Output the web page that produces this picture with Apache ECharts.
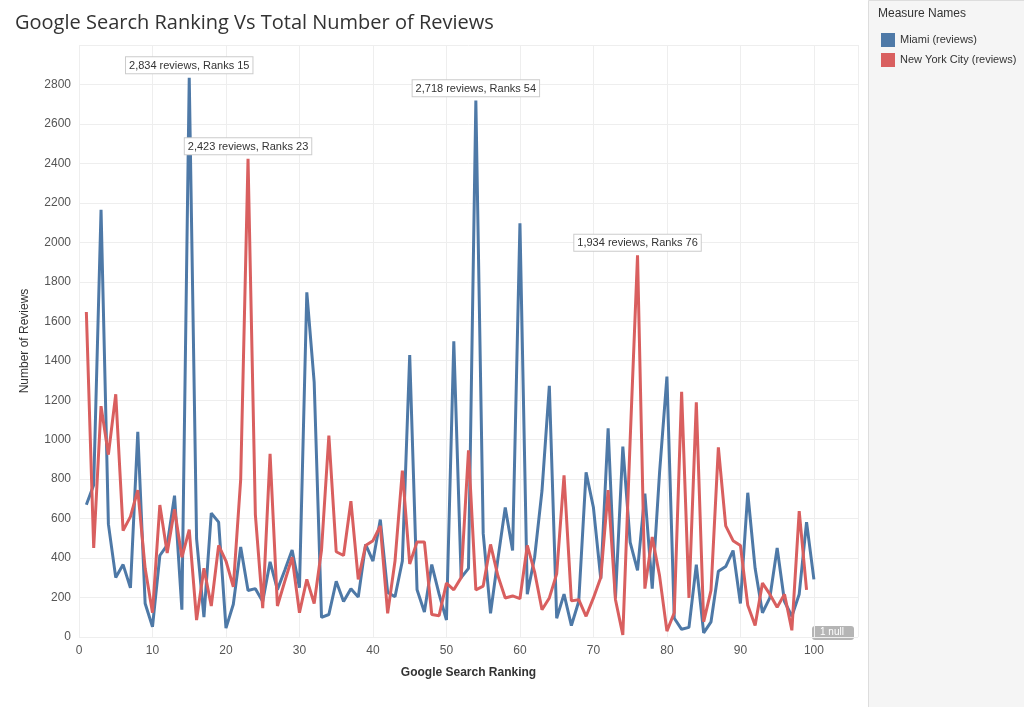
<!DOCTYPE html>
<html>
<head>
<meta charset="utf-8">
<script src="https://cdn.jsdelivr.net/npm/echarts@6/dist/echarts.min.js"></script>
<style>html,body{margin:0;padding:0;background:#fff}#main{width:1024px;height:707px}</style>
</head>
<body>
<div id="main"></div>
<script>
// ranks 1..100
var miami = [670,770,2165,572,301,367,249,1040,170,52,413,466,716,138,2834,497,101,628,582,45,
  166,456,236,245,180,381,240,338,441,250,1747,1292,99,114,282,180,245,202,469,385,
  595,226,204,385,1429,239,127,367,217,86,1498,301,348,2718,525,120,395,656,438,2096,
  217,404,741,1273,95,217,58,180,834,656,295,1058,198,965,479,338,726,245,834,1320,
  95,39,49,367,21,77,333,357,438,170,731,348,123,198,451,180,105,217,582,292];
var nyc = [1647,451,1170,924,1230,539,610,744,348,123,669,426,647,404,544,86,348,157,464,385,
  254,797,2423,619,146,928,157,282,404,123,292,170,441,1021,432,413,688,292,464,488,
  563,120,385,843,370,482,482,114,108,273,239,301,946,239,258,469,310,198,208,194,
  464,329,138,198,320,819,183,189,105,198,301,744,189,11,1000,1934,245,507,310,30,
  123,1242,198,1189,77,236,961,563,488,464,161,58,273,217,151,217,34,638,239,null];
var annotations = {miami: [15, 54], nyc: [23, 76]};
var seriesNames = ['Miami (reviews)', 'New York City (reviews)'];
var colors = ['#4e79a7', '#d95f5f'];

function pairs(arr) {
  return arr.map(function (v, i) { return [i + 1, v]; });
}
function marks(arr, ranks) {
  return ranks.map(function (r) {
    var v = arr[r - 1];
    return {
      coord: [r, v],
      label: {
        show: true, position: 'top', distance: 4,
        formatter: v.toLocaleString('en-US') + ' reviews, Ranks ' + r,
        color: '#333', fontSize: 11, backgroundColor: '#fff',
        borderColor: '#ccc', borderWidth: 1, padding: [3, 3, 2, 3]
      }
    };
  });
}

var chart = echarts.init(document.getElementById('main'));
chart.setOption({
  animation: false,
  title: {text: 'Google Search Ranking Vs Total Number of Reviews', left: 10, top: 8,
    textStyle: {fontFamily: 'Open Sans', fontWeight: 'normal', fontSize: 20, color: '#333'}},
  legend: {
    orient: 'vertical', left: 876, top: 28, itemWidth: 14, itemHeight: 14, itemGap: 6,
    icon: 'rect', data: seriesNames,
    textStyle: {fontSize: 11, color: '#333', width: 118, overflow: 'truncate', ellipsis: '..'}
  },
  graphic: [
    {type: 'rect', left: 868, top: 0, shape: {width: 156, height: 707}, z: -10,
      style: {fill: '#f5f5f5', stroke: '#ddd'}},
    {type: 'text', left: 878, top: 8, style: {text: 'Measure Names', fontSize: 12, fill: '#333'}},
    {type: 'rect', left: 812, top: 626, shape: {width: 42, height: 14, r: 3},
      style: {fill: '#b5b5b5'}},
    {type: 'text', left: 820, top: 627, style: {text: '1 null', fontSize: 10, fill: '#fff'}}
  ],
  grid: {left: 79, right: 166, top: 45, bottom: 70},
  xAxis: {
    type: 'value', min: 0, max: 106, interval: 10,
    name: 'Google Search Ranking', nameLocation: 'middle', nameGap: 30,
    nameTextStyle: {fontSize: 12, fontWeight: 'bold', color: '#333'},
    axisLine: {show: false}, axisTick: {show: false},
    axisLabel: {color: '#555', fontSize: 12, showMaxLabel: false},
    splitLine: {lineStyle: {color: '#eee'}}
  },
  yAxis: {
    type: 'value', min: 0, max: 3000, interval: 200,
    name: 'Number of Reviews', nameLocation: 'middle', nameGap: 48,
    nameTextStyle: {fontSize: 12, color: '#333'},
    axisLine: {show: false}, axisTick: {show: false},
    axisLabel: {color: '#555', fontSize: 12, showMaxLabel: false, formatter: function (v) { return String(v); }},
    splitLine: {lineStyle: {color: '#eee'}}
  },
  series: [
    {name: seriesNames[0], type: 'line', data: pairs(miami),
      showSymbol: false, lineStyle: {width: 3, color: colors[0]}, itemStyle: {color: colors[0]},
      markPoint: {symbol: 'circle', symbolSize: 1, itemStyle: {color: 'transparent'},
        data: marks(miami, annotations.miami)}},
    {name: seriesNames[1], type: 'line', data: pairs(nyc),
      showSymbol: false, lineStyle: {width: 3, color: colors[1]}, itemStyle: {color: colors[1]},
      markPoint: {symbol: 'circle', symbolSize: 1, itemStyle: {color: 'transparent'},
        data: marks(nyc, annotations.nyc)}}
  ]
});
</script>
</body>
</html>
